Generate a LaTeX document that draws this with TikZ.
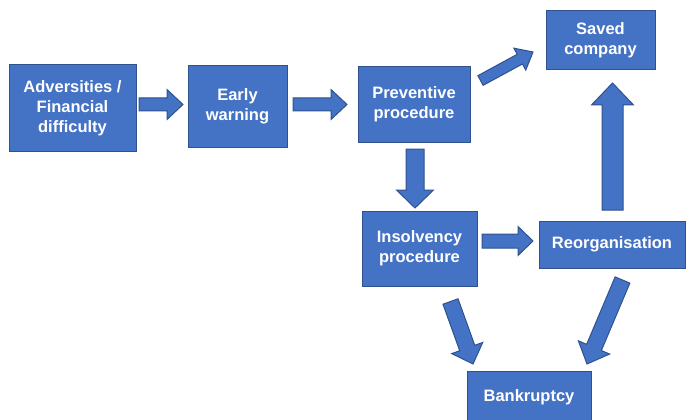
\documentclass[tikz,border=0pt]{standalone}
\usepackage{fontspec}
\setmainfont{Liberation Sans}
\usetikzlibrary{calc}
\definecolor{boxfill}{HTML}{4472C4}
\definecolor{boxline}{HTML}{2F528F}
\tikzset{
  boxtext/.style={text=white, font=\bfseries\fontsize{16.5}{20}\selectfont, align=center, inner sep=0pt},
  stepbox/.style={draw=boxline, fill=boxfill, line width=1pt, boxtext},
  barrow/.style={draw=boxline, fill=boxfill, line width=1pt, line join=miter}
}
% #1 name prefix, #2 start, #3 tip, #4 shaft half width, #5 head half width, #6 head length
\newcommand{\blockarrow}[6]{%
  \coordinate (#1h) at ($(#3)!#6pt!(#2)$);
  \draw[barrow] ($(#2)!#4pt!90:(#3)$) -- ($(#1h)!#4pt!90:(#3)$) -- ($(#1h)!#5pt!90:(#3)$)
    -- (#3) -- ($(#1h)!#5pt!-90:(#3)$) -- ($(#1h)!#4pt!-90:(#3)$) -- ($(#2)!#4pt!-90:(#3)$) -- cycle;
}
\begin{document}
\begin{tikzpicture}[x=1pt,y=-1pt]
\useasboundingbox (0,0) rectangle (686,420);
% boxes
\node[stepbox, minimum width=127pt, minimum height=86pt] (adv) at (72.5,108) {Adversities /\\Financial\\difficulty};
\node[stepbox, minimum width=99pt, minimum height=81pt] (early) at (237.5,106.5) {Early\\warning};
\node[stepbox, minimum width=112pt, minimum height=75pt] (prev) at (414,104.5) {Preventive\\procedure};
\node[stepbox, minimum width=109pt, minimum height=59pt] (saved) at (600.5,40.5) {Saved\\company};
\node[stepbox, minimum width=115pt, minimum height=75pt] (ins) at (419.5,248.5) {Insolvency\\procedure};
\node[stepbox, minimum width=146pt, minimum height=47pt] (reorg) at (612,244.5) {Reorganisation};
\node[stepbox, minimum width=124pt, minimum height=64pt,
  label={[boxtext, yshift=6pt]center:Bankruptcy}] (bank) at (529,403) {};
% arrow end points
\coordinate (a1s) at (139,104.5); \coordinate (a1t) at (183,104.5);
\coordinate (a2s) at (293,104.5); \coordinate (a2t) at (347,104.5);
\coordinate (a3s) at (480.5,80.5); \coordinate (a3t) at (533,52);
\coordinate (a4s) at (415,149); \coordinate (a4t) at (415,208);
\coordinate (a5s) at (482,241); \coordinate (a5t) at (533,241);
\coordinate (a6s) at (612.5,210); \coordinate (a6t) at (612.5,83);
\coordinate (a7s) at (450.5,301.5); \coordinate (a7t) at (473,364);
\coordinate (a8s) at (622.5,280); \coordinate (a8t) at (587,364);
% block arrows
\blockarrow{a1}{a1s}{a1t}{6.5}{15}{16}
\blockarrow{a2}{a2s}{a2t}{6.5}{15}{16}
\blockarrow{a3}{a3s}{a3t}{5.5}{12.5}{15}
\blockarrow{a4}{a4s}{a4t}{9}{18.5}{18}
\blockarrow{a5}{a5s}{a5t}{7}{14.5}{15}
\blockarrow{a6}{a6s}{a6t}{10.5}{21}{22}
\blockarrow{a7}{a7s}{a7t}{8}{16.5}{17}
\blockarrow{a8}{a8s}{a8t}{8}{17}{18}
\end{tikzpicture}
\end{document}
